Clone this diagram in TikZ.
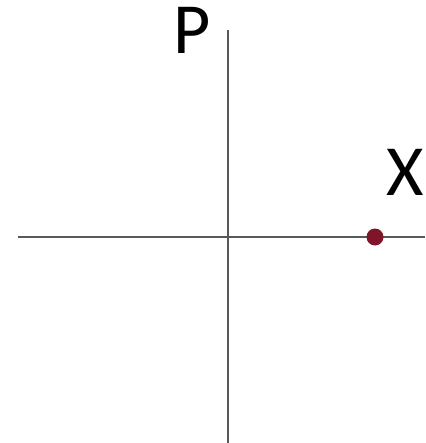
\documentclass[tikz,border=0pt]{standalone}
\usepackage{fontspec}
\setmainfont{Carlito}
\begin{document}
\begin{tikzpicture}[x=1pt,y=-1pt,
  axis/.style={draw=black!65,line width=2.8pt},
  lbl/.style={inner sep=0pt,font=\fontsize{72}{72}\selectfont,anchor=north west}]
\useasboundingbox (0,0) rectangle (425,443);
\clip (0,0) rectangle (425,443);
\coordinate (L) at (18,237);
\coordinate (R) at (425,237);
\coordinate (T) at (228,30);
\coordinate (B) at (228,443);
\draw[axis] (L) -- (R);
\draw[axis] (T) -- (B);
\fill[fill={rgb,255:red,128;green,20;blue,40}] (375,237) circle (8.5);
\node[lbl] (p) at (173,7) {P};
\node[lbl,anchor=north east] (x) at (424,149) {X};
\end{tikzpicture}
\end{document}
